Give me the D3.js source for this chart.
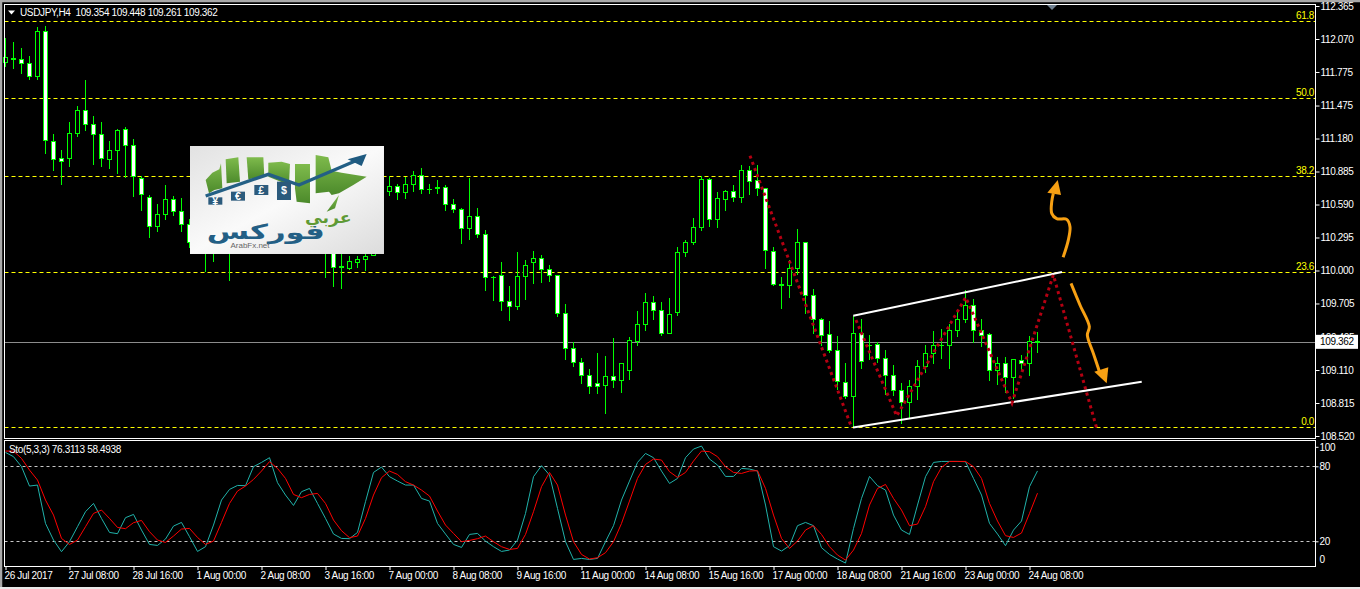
<!DOCTYPE html>
<html><head><meta charset="utf-8">
<script src="https://cdn.jsdelivr.net/npm/d3@7"></script>
<style>
html,body{margin:0;padding:0;background:#000;overflow:hidden}
svg{display:block}
text{font-family:"Liberation Sans",Arial,sans-serif;font-size:10px;letter-spacing:-0.35px}
</style></head><body><svg id="c" width="1360" height="589"></svg>
<script>
const opens=[
111.864,111.891,111.891,111.855,111.739,112.141,111.149,111.005,111.005,111.229,
111.435,111.309,111.220,110.988,111.077,111.265,111.122,110.827,110.657,110.389,
110.505,110.639,110.523,110.407,110.25,110.35,110.20,110.30,110.45,110.25,
110.50,110.70,110.85,111.00,110.80,110.65,110.75,110.60,110.45,110.50,
110.30,110.25,110.03,110.022,110.067,110.094,110.13,110.45,110.702,110.755,
110.693,110.773,110.845,110.728,110.733,110.746,110.594,110.549,110.371,110.487,
110.326,109.937,109.951,109.727,109.682,109.942,110.067,110.103,110.013,109.951,
109.611,109.298,109.173,109.057,108.985,108.976,109.048,109.012,109.110,109.369,
109.521,109.718,109.638,109.441,109.620,110.165,110.254,110.380,110.818,110.460,
110.639,110.710,110.657,110.898,110.809,110.737,110.174,109.874,109.870,110.022,
110.246,109.772,109.566,109.432,109.289,108.994,108.869,109.441,109.327,109.334,
109.217,109.057,108.931,108.824,108.967,109.137,109.262,109.325,109.325,109.459,
109.566,109.691,109.459,109.432,109.110,109.164,109.039,109.191,109.164,109.354];
const highs=[
112.078,112.043,111.989,111.917,112.177,112.186,111.220,111.077,111.327,111.470,
111.703,111.381,111.327,111.157,111.265,111.283,111.175,110.845,110.675,110.594,
110.764,110.666,110.648,110.460,110.45,110.42,110.40,110.55,110.60,110.60,
110.80,110.95,111.10,111.05,110.90,110.85,110.85,110.70,110.60,110.55,
110.40,110.35,110.20,110.129,110.129,110.20,110.50,110.75,110.845,110.773,
110.836,110.889,110.916,110.773,110.809,110.764,110.639,110.558,110.827,110.558,
110.362,109.951,110.076,109.861,110.165,110.094,110.174,110.138,110.049,109.960,
109.700,109.361,109.217,109.119,109.262,109.235,109.396,109.173,109.405,109.638,
109.799,109.772,109.718,109.754,110.210,110.272,110.469,110.845,110.827,110.702,
110.719,110.764,110.943,110.934,110.943,110.737,110.210,109.942,110.094,110.371,
110.254,109.834,109.575,109.548,109.414,109.173,109.593,109.566,109.423,109.361,
109.289,109.155,108.994,109.021,109.200,109.334,109.459,109.477,109.521,109.647,
109.825,109.745,109.566,109.441,109.226,109.226,109.200,109.244,109.414,109.448];
const lows=[
111.819,111.801,111.756,111.703,111.703,111.041,110.889,110.764,110.925,111.193,
111.247,110.943,110.925,110.907,110.862,110.827,110.657,110.532,110.290,110.344,
110.451,110.487,110.344,110.201,110.20,109.986,110.076,110.22,109.906,110.18,
110.40,110.60,110.75,110.70,110.55,110.55,110.50,110.35,110.30,110.20,
109.933,109.852,109.834,110.004,110.022,109.995,110.16,110.35,110.666,110.630,
110.639,110.702,110.684,110.684,110.684,110.532,110.514,110.237,110.272,110.290,
109.816,109.727,109.638,109.548,109.647,109.736,109.879,109.888,109.897,109.584,
109.200,109.137,108.985,108.896,108.896,108.717,108.949,108.905,109.021,109.325,
109.459,109.557,109.414,109.441,109.593,110.120,110.228,110.353,110.389,110.380,
110.532,110.612,110.603,110.675,110.666,110.013,109.861,109.656,109.754,109.960,
109.611,109.432,109.325,109.262,108.931,108.851,108.601,109.119,109.200,109.173,
108.887,108.878,108.627,108.672,108.842,109.083,109.164,109.209,109.119,109.405,
109.530,109.351,109.316,109.012,108.976,108.905,108.851,109.110,109.057,109.261];
const closes=[
111.908,111.899,111.855,111.739,112.141,111.166,110.988,110.979,111.229,111.435,
111.309,111.220,110.997,111.077,111.256,111.122,110.836,110.675,110.389,110.505,
110.639,110.523,110.407,110.246,110.40,110.20,110.30,110.45,110.25,110.50,
110.70,110.85,111.00,110.80,110.65,110.75,110.60,110.45,110.50,110.30,
110.25,110.031,110.036,110.076,110.094,110.129,110.45,110.60,110.755,110.693,
110.773,110.845,110.728,110.726,110.741,110.594,110.549,110.371,110.487,110.326,
109.933,109.933,109.727,109.682,109.942,110.049,110.103,110.013,109.951,109.611,
109.298,109.173,109.057,108.967,108.967,109.048,109.012,109.164,109.378,109.521,
109.718,109.638,109.441,109.602,110.165,110.254,110.380,110.818,110.460,110.648,
110.710,110.657,110.898,110.800,110.737,110.183,109.879,109.870,110.022,110.246,
109.772,109.566,109.423,109.289,109.003,108.869,109.441,109.182,109.325,109.217,
109.057,108.931,108.824,108.967,109.137,109.262,109.325,109.327,109.459,109.566,
109.691,109.459,109.423,109.110,109.164,109.039,109.200,109.164,109.361,109.362];
const stoMain=[
91.1,87.7,79.7,64.2,65,34.3,21,11.7,19.7,31.7,43.7,50.3,38.3,27.1,26.1,38.9,41.5,29,17.5,16.7,
21.8,32.2,35.1,23.7,11.9,15.7,33,53,61.5,64.7,64.5,79.7,83.1,86.9,66.9,57,48.7,59.7,62.3,50.3,
38.3,25.8,22.3,22.1,27.1,51.7,75.1,79.4,71.7,68.2,65,65,54.3,52.2,34.3,25.8,
17.5,15.1,25.5,26.3,20.2,15.7,11.9,13,21,42.3,71.7,80.5,73,46.3,19.7,5.5,6.3,5.5,6.3,19.7,
32.5,53,68.2,83.1,90.3,86.9,76.2,66.3,70.3,86.9,93.8,96.2,85.8,81,71.9,71.9,78.3,77.8,76.2,49,
15.7,12.2,16.5,32.5,35.1,32.5,14.9,9.5,5.8,2.6,30.3,54.3,71.9,64.5,61,41,
29,25.5,49,71.7,83.1,83.9,83.9,83.9,83.7,70.3,57,34.3,25.8,16.5,29,36.2,63.7,76.3];
const stoSignal=[
92.2,92.2,86.3,77,69,53,41,22.3,17.5,21,31.7,42.3,45,38.3,31.1,30.1,34.9,36.7,27.7,21,
19.1,24.2,29.8,30.3,23.1,17.5,20.2,35.1,50.3,60.2,64.2,69.5,76.2,83.7,78.3,70.3,57.5,54.9,57.5,58.3,
50.3,37,28.5,22.9,24.2,38.3,57,70.9,76.2,73.5,67.7,65,61,56.2,44.2,33,
26.3,19.7,20.7,22.1,24.2,19.7,15.7,13.5,14.3,25.5,43.7,63.7,75.1,65,41,19.7,9.5,5.8,6.9,10.9,
19.7,34.3,52.2,70.3,81.5,85.8,85,75.7,71.1,75.1,84.2,92.2,91.7,87.7,79.7,75.1,74.3,76.2,76.5,62.3,
41,22.3,14.3,20.2,29,32.5,25.5,15.7,9,5,13,26.3,49,62.3,65.5,54.3,
45,32.5,33.8,47.7,67.7,79.1,83.9,83.9,83.9,79.7,70.3,50.3,36.2,24.5,23.1,26.6,42.3,58.5];
const priceTicks=[112.365,112.07,111.775,111.475,111.18,110.885,110.59,110.295,110,109.705,109.405,109.11,108.815,108.52];
const stoTicks=[100,80,20,0];
const stoLevels=[80,20];
const timeLabels=["26 Jul 2017","27 Jul 08:00","28 Jul 16:00","1 Aug 00:00","2 Aug 08:00","3 Aug 16:00","7 Aug 00:00","8 Aug 08:00","9 Aug 16:00","11 Aug 00:00","14 Aug 08:00","15 Aug 16:00","17 Aug 00:00","18 Aug 08:00","21 Aug 16:00","23 Aug 00:00","24 Aug 08:00"];
const fibLevels=["61.8","50.0","38.2","23.6","0.0"];
const fibPrices=[112.228,111.54,110.845,109.984,108.598];
const lastPrice=109.362;
const channelUpper=[[105.97,109.596],[132.06,109.986]];
const channelLower=[[105.94,108.596],[142.03,109.006]];
const zigLeg1=[[93.06,111.026],[105.69,108.61]];
const zigLeg2=[[106.31,109.557],[111.4,108.699],[120.03,109.76],[125.81,108.815],[130.98,109.96],[136.4,108.589]];
const arrowUp=[[132.2,110.118],[132.85,110.272],[133.06,110.391],[132.65,110.457],[131.4,110.463],[130.78,110.511],[130.78,110.615],[130.98,110.69]];
const arrowUpHead=[[131.53,110.809],[130.23,110.695],[131.94,110.675]];
const arrowDown=[[133.19,109.885],[134.31,109.691],[135.48,109.497],[135.23,109.423],[135.98,109.259],[136.81,109.081]];
const arrowDownHead=[[137.65,108.991],[136.1,109.095],[137.85,109.134]];

const svg=d3.select("#c");
const x=d3.scaleLinear().domain([0,129]).range([5.5,1037.5]);
const y=d3.scaleLinear().domain([108.52,112.365]).range([436,6]);
const ys=d3.scaleLinear().domain([0,100]).range([566.3,441.3]);
const L=4.5,R=1315.5;

// window border
svg.append("rect").attr("width",1360).attr("height",589).attr("fill","#000");
svg.append("path").attr("d","M1,589V1H1360").attr("fill","none").attr("stroke","#a8a8a8").attr("stroke-width",2.5);
svg.append("rect").attr("x",0).attr("y",587).attr("width",1360).attr("height",2).attr("fill","#e8e8e8");

// fib levels
const fib=svg.append("g");
fib.selectAll("line").data(fibPrices).join("line")
 .attr("x1",L).attr("x2",R).attr("y1",d=>Math.round(y(d))+.5).attr("y2",d=>Math.round(y(d))+.5)
 .attr("stroke","#ffff00").attr("stroke-dasharray","4,3");
fib.selectAll("text").data(fibPrices).join("text")
 .attr("x",1314).attr("y",d=>y(d)-2).attr("text-anchor","end").attr("fill","#ffff00").text((d,i)=>fibLevels[i]);

// last price line
svg.append("line").attr("x1",L).attr("x2",R).attr("y1",Math.round(y(lastPrice))+.5).attr("y2",Math.round(y(lastPrice))+.5).attr("stroke","#8c8c8c");

// candles
const idx=d3.range(opens.length);
const candles=svg.append("g").attr("shape-rendering","crispEdges");
candles.selectAll("line").data(idx).join("line")
 .attr("x1",i=>x(i)).attr("x2",i=>x(i)).attr("y1",i=>y(highs[i])).attr("y2",i=>y(lows[i])).attr("stroke","#00ff00");
candles.selectAll("rect").data(idx).join("rect")
 .attr("x",i=>x(i)-2).attr("width",4)
 .attr("y",i=>y(Math.max(opens[i],closes[i])))
 .attr("height",i=>Math.abs(y(opens[i])-y(closes[i])))
 .attr("fill",i=>closes[i]<opens[i]?"#fff":"#000").attr("stroke","#00ff00");

// logo (picture pasted on the chart)
const defs=svg.append("defs");
const lg=defs.append("linearGradient").attr("id","lg").attr("x1",0).attr("y1",0).attr("x2",1).attr("y2",1);
lg.append("stop").attr("offset",0).attr("stop-color","#e2e2e2");
lg.append("stop").attr("offset",.5).attr("stop-color","#fafafa");
lg.append("stop").attr("offset",1).attr("stop-color","#dcdcdc");
const lg2=defs.append("linearGradient").attr("id","lg2").attr("x1",0).attr("y1",0).attr("x2",0).attr("y2",1);
lg2.append("stop").attr("offset",0).attr("stop-color","#7fbb4c");
lg2.append("stop").attr("offset",1).attr("stop-color","#4c8a2b");
const logo=svg.append("g").attr("transform","translate(185,140) scale(.3333)");
logo.append("rect").attr("x",15).attr("y",18).attr("width",582).attr("height",324).attr("fill","url(#lg)");
const polys=[
 [[62,120],[82,98],[103,88],[108,70],[112,145],[88,150],[72,160]],
 [[122,58],[160,52],[165,125],[125,130]],
 [[185,52],[235,52],[238,110],[190,118]],
 [[250,68],[290,65],[315,72],[312,135],[250,110]],
 [[330,72],[375,72],[375,190],[335,185],[330,145]],
 [[392,45],[430,52],[440,92],[470,98],[545,110],[505,135],[462,160],[440,165],[432,155],[392,160]],
 [[425,215],[462,165],[450,205]]];
logo.selectAll("polygon.g").data(polys).join("polygon").attr("class","g")
 .attr("points",d=>d.join(" ")).attr("fill","url(#lg2)");
logo.append("polyline").attr("points","62,168 250,103 342,135 530,55").attr("fill","none").attr("stroke","#235f85").attr("stroke-width",10);
logo.append("polygon").attr("points","545,42 488,58 530,78").attr("fill","#1f5a80");
const tiles=[[70,172,42,22,"¥"],[138,155,42,27,"€"],[208,135,42,30,"£"],[276,125,42,55,"$"]];
tiles.forEach(t=>{
 logo.append("rect").attr("x",t[0]).attr("y",t[1]).attr("width",t[2]).attr("height",t[3]).attr("fill","#2b5a7c");
 logo.append("text").attr("x",t[0]+21).attr("y",t[1]+t[3]/2+11).attr("text-anchor","middle").attr("fill","#fff")
  .style("font-size","32px").style("font-weight","bold").style("letter-spacing","0").text(t[4]);
});
logo.append("text").attr("x",360).attr("y",250).attr("textLength",140).attr("lengthAdjust","spacingAndGlyphs").attr("fill","#5f9a35")
 .style("font-family","DejaVu Sans").style("font-size","48px").style("letter-spacing","0").style("font-weight","bold").text("عربي");
logo.append("text").attr("x",65).attr("y",296).attr("textLength",355).attr("lengthAdjust","spacingAndGlyphs").attr("fill","#235f85")
 .style("font-family","DejaVu Sans").style("font-size","62px").style("letter-spacing","0").style("font-weight","bold").text("فوركس");
logo.append("text").attr("x",195).attr("y",324).attr("text-anchor","middle").attr("fill","#666")
 .style("font-size","24px").style("letter-spacing","0").text("ArabFx.net");

// annotations
const ln=d3.line().x(d=>x(d[0])).y(d=>y(d[1]));
const ann=svg.append("g");
[channelUpper,channelLower].forEach(d=>ann.append("path").attr("d",ln(d)).attr("fill","none").attr("stroke","#fff").attr("stroke-width",2));
[zigLeg1,zigLeg2].forEach(d=>ann.append("path").attr("d",ln(d)).attr("fill","none").attr("stroke","#b40012").attr("stroke-width",3).attr("stroke-dasharray","3,3.6"));
const cv=d3.line().x(d=>x(d[0])).y(d=>y(d[1])).curve(d3.curveCatmullRom);
[[arrowUp,arrowUpHead],[arrowDown,arrowDownHead]].forEach(a=>{
 ann.append("path").attr("d",cv(a[0])).attr("fill","none").attr("stroke","#f7a013").attr("stroke-width",3);
 ann.append("polygon").attr("points",a[1].map(d=>[x(d[0]),y(d[1])].join(",")).join(" ")).attr("fill","#f7a013");
});

// price axis
const priceAxis=d3.axisRight(y).tickValues(priceTicks).tickSize(4).tickPadding(1).tickFormat(d3.format(".3f"));
const pa=svg.append("g").attr("transform",`translate(${R},0)`).call(priceAxis);
pa.select(".domain").remove();
pa.selectAll("line").attr("stroke","#fff");
pa.selectAll("text").attr("fill","#fff");
pa.attr("font-size",null).attr("font-family",null);
// current price box
svg.append("rect").attr("x",1316).attr("y",y(lastPrice)-7).attr("width",42).attr("height",14).attr("fill","#fff");
svg.append("text").attr("x",1320).attr("y",y(lastPrice)+3.5).attr("fill","#000").text(lastPrice.toFixed(3));

// top marker
svg.append("path").attr("d","M1047,5H1057L1052,10Z").attr("fill","#708090");

// header
svg.append("path").attr("d","M8,10.5H15L11.5,14.5Z").attr("fill","#fff");
svg.append("text").attr("x",20).attr("y",16).attr("fill","#fff").attr("xml:space","preserve").style("white-space","pre")
 .text("USDJPY,H4  "+[opens[129],highs[129],lows[129],closes[129]].map(d=>d.toFixed(3)).join(" "));

// stochastic
svg.append("g").selectAll("line").data(stoLevels).join("line")
 .attr("x1",L).attr("x2",R).attr("y1",d=>Math.round(ys(d))+.5).attr("y2",d=>Math.round(ys(d))+.5)
 .attr("stroke","#c8c8c8").attr("stroke-dasharray","3,3");
const sl=d3.line().x((d,i)=>x(i)).y(d=>ys(d));
svg.append("path").attr("d",sl(stoMain)).attr("fill","none").attr("stroke","#20b2aa");
svg.append("path").attr("d",sl(stoSignal)).attr("fill","none").attr("stroke","#ff0000");
svg.append("text").attr("x",9).attr("y",453).attr("fill","#fff").text("Sto(5,3,3) 76.3113 58.4938");
const stoAxis=d3.axisRight(ys).tickValues(stoTicks).tickSize(3).tickPadding(1);
const sa=svg.append("g").attr("transform",`translate(${R},0)`).call(stoAxis);
sa.select(".domain").remove();
sa.attr("font-size",null).attr("font-family",null);
sa.selectAll("line").attr("stroke","#fff");
sa.selectAll("text").attr("fill","#fff");
sa.selectAll(".tick").each(function(d){
 if(d===100) d3.select(this).attr("transform",`translate(0,${ys(100)+6})`);
 if(d===0) d3.select(this).attr("transform",`translate(0,${ys(0)-7})`).select("line").remove();
});

// time axis
const timeIdx=timeLabels.map((d,i)=>i*8);
const timeAxis=d3.axisBottom(x).tickValues(timeIdx).tickSize(4).tickPadding(2).tickFormat((d,i)=>timeLabels[i]);
const ta=svg.append("g").attr("transform","translate(0,566)").call(timeAxis);
ta.select(".domain").remove();
ta.attr("font-size",null).attr("font-family",null);
ta.selectAll("line").attr("stroke","#fff");
ta.selectAll("text").attr("fill","#fff").attr("text-anchor","start").attr("dx",-1.5);

// frames
const frames=svg.append("g").attr("fill","none").attr("stroke","#fff").attr("shape-rendering","crispEdges");
frames.append("rect").attr("x",L).attr("y",4.5).attr("width",R-L).attr("height",434);
frames.append("rect").attr("x",L).attr("y",440.5).attr("width",R-L).attr("height",126);
</script></body></html>
